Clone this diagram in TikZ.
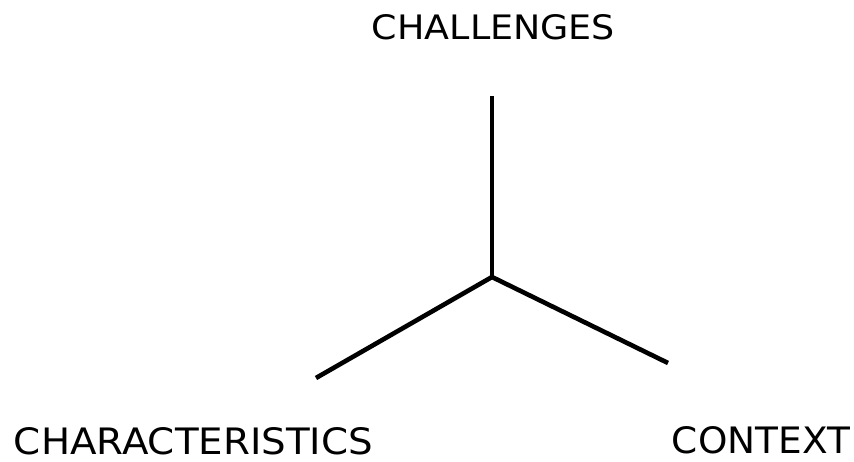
\documentclass[tikz,border=0pt]{standalone}
\usepackage{graphicx}
\usepackage{fontspec}
\setmainfont{DejaVu Sans}
\tikzset{
  lbl/.style={inner sep=0pt, outer sep=0pt, anchor=center, text=black},
  arm/.style={draw=black, line width=4.6pt}
}
\begin{document}
\begin{tikzpicture}[x=1pt, y=-1pt]
\useasboundingbox[fill=white] (0,0) rectangle (854,462);
\node[lbl] (chal) at (493.5,27.5) {\resizebox{243pt}{25pt}{CHALLENGES}};
\node[lbl] (char) at (193.5,441) {\resizebox{359pt}{27pt}{CHARACTERISTICS}};
\node[lbl] (cont) at (761,440.5) {\resizebox{178pt}{27pt}{CONTEXT}};
\coordinate (j) at (492,277);
\coordinate (top) at (492,96);
\coordinate (left) at (316,378);
\coordinate (right) at (668,363);
\draw[arm] (top) -- (j);
\draw[arm] (left) -- (j) -- (right);
\end{tikzpicture}
\end{document}
